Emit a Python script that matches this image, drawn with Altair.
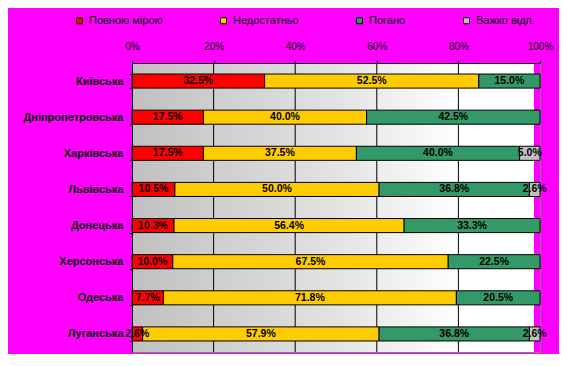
import altair as alt
import pandas as pd

regions = ["Київська", "Дніпропетровська", "Харківська", "Львівська",
           "Донецька", "Херсонська", "Одеська", "Луганська"]
series = ["Повною мірою", "Недостатньо", "Погано", "Важко відп."]
full = [32.5, 17.5, 17.5, 10.5, 10.3, 10.0, 7.7, 2.6]
insufficient = [52.5, 40.0, 37.5, 50.0, 56.4, 67.5, 71.8, 57.9]
bad = [15.0, 42.5, 40.0, 36.8, 33.3, 22.5, 20.5, 36.8]
hard = [0.0, 0.0, 5.0, 2.6, 0.0, 0.0, 0.0, 2.6]
colors = ["#FF0000", "#FFCC00", "#339966", "#C0C0C0"]
x_ticks = [0, 0.2, 0.4, 0.6, 0.8, 1.0]
grid_vals = [0.2, 0.4, 0.6, 0.8]

rows = []
for i, r in enumerate(regions):
    vals = [full[i], insufficient[i], bad[i], hard[i]]
    total = sum(vals)
    acc = 0.0
    for s, v in zip(series, vals):
        if v > 0:
            rows.append(dict(region=r, series=s, start=acc / total,
                             end=(acc + v) / total, mid=(acc + v / 2) / total,
                             label=f"{v:.1f}%"))
        acc += v
df = pd.DataFrame(rows)

W, H = 408, 289
FONT = "Liberation Sans"

one = pd.DataFrame({"a": [0]})

bg = alt.Chart(one).mark_rect(
    fill=alt.LinearGradient(
        gradient="linear",
        stops=[alt.GradientStop(color="#c0c0c0", offset=0),
               alt.GradientStop(color="#e2e2e2", offset=0.5),
               alt.GradientStop(color="#ffffff", offset=0.82),
               alt.GradientStop(color="#ffffff", offset=1)],
        x1=0, x2=1, y1=0, y2=0)
).encode(x=alt.value(0), x2=alt.value(W - 6), y=alt.value(0), y2=alt.value(H))

grid = alt.Chart(pd.DataFrame({"v": grid_vals})).mark_rule(
    color="black", strokeWidth=1
).encode(x=alt.X("v:Q"))

y_enc = alt.Y(
    "region:N", sort=regions,
    scale=alt.Scale(paddingInner=0.61, paddingOuter=0.305),
    axis=alt.Axis(title=None, tickBand="extent", domainColor="black",
                  tickColor="black", tickSize=3, labelFont=FONT,
                  labelFontSize=11, labelFontWeight="bold", labelColor="black",
                  labelPadding=6, zindex=1, grid=False))

x_enc = alt.X(
    "start:Q", scale=alt.Scale(domain=[0, 1], nice=False),
    axis=alt.Axis(orient="top", values=x_ticks, format="%", grid=False,
                  tickSize=3, tickColor="black", domainColor="black",
                  labelFont=FONT, labelFontSize=10, labelColor="black",
                  labelBaseline="middle", labelPadding=14, labelFlush=False,
                  zindex=1, title=None))

bars = alt.Chart(df).mark_bar(stroke="black", strokeWidth=1).encode(
    y=y_enc, x=x_enc, x2="end:Q",
    color=alt.Color("series:N",
                    scale=alt.Scale(domain=series, range=colors),
                    legend=alt.Legend(title=None, orient="none",
                                      legendX=-58, legendY=-48,
                                      direction="horizontal",
                                      symbolType="square", symbolSize=36,
                                      symbolStrokeColor="black",
                                      symbolStrokeWidth=1,
                                      labelFont=FONT, labelFontSize=11,
                                      labelColor="black", labelOffset=4,
                                      columnPadding=55)))

text = alt.Chart(df).mark_text(
    font=FONT, fontSize=10.5, fontWeight="bold", color="black",
    baseline="middle"
).encode(y=alt.Y("region:N", sort=regions), x=alt.X("mid:Q"), text="label:N")

chart = alt.layer(bg, grid, bars, text).properties(
    width=W, height=H,
    padding={"left": 124, "top": 55, "right": 19, "bottom": 2},
    autosize=alt.AutoSizeParams(type="none"),
    background="#FF00FF",
).configure_view(stroke="#808080", strokeWidth=1)

chart.save("out.html", embed_options={"renderer": "svg", "actions": False})
